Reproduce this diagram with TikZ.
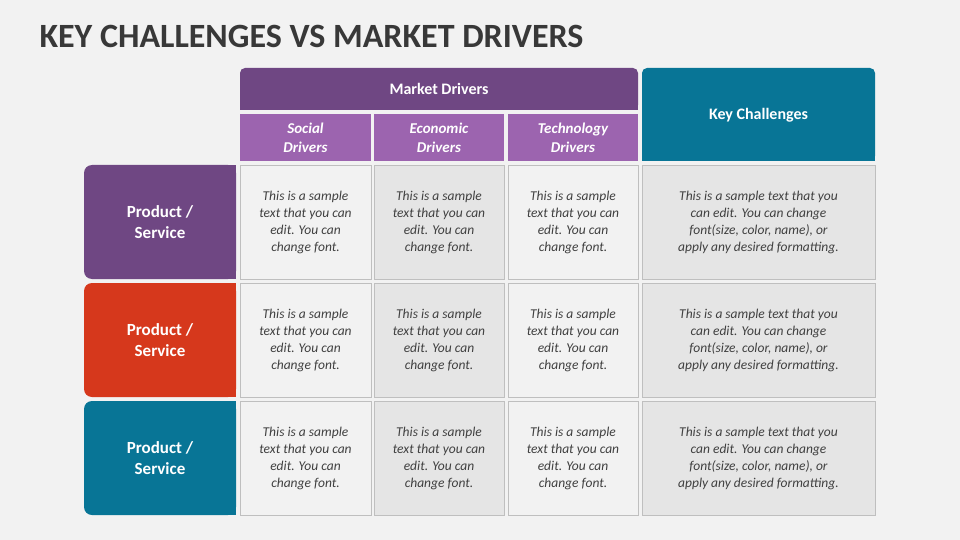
\documentclass[tikz,border=0pt]{standalone}
\usepackage{fontspec}
\setmainfont{Carlito}
\begin{document}
\begin{tikzpicture}[x=1pt,y=-1pt,
  hdr/.style={font=\bfseries\fontsize{16}{19}\selectfont, text=white, align=center},
  sub/.style={font=\bfseries\itshape\fontsize{15}{19}\selectfont, text=white, align=center},
  lab/.style={font=\bfseries\fontsize{17}{21}\selectfont, text=white, align=center},
  cell/.style={font=\itshape\fontsize{13.5}{17}\selectfont, text=black!75, align=center},
  cellA/.style={fill=black!5, draw=black!25, line width=0.6pt},
  cellB/.style={fill=black!10, draw=black!25, line width=0.6pt}]
\definecolor{pur}{HTML}{6F4783}
\definecolor{lpur}{HTML}{9C64AF}
\definecolor{red}{HTML}{D6381C}
\definecolor{teal}{HTML}{087596}
\fill[black!5] (0,0) rectangle (960,540);
\useasboundingbox (0,0) rectangle (960,540);
\node[anchor=west, font=\bfseries\fontsize{34}{38}\selectfont, text=black!78] (title) at (36,36) {KEY CHALLENGES VS MARKET DRIVERS};
% headers
\fill[pur, rounded corners=5pt] (240,68) rectangle (638,110);
\fill[pur] (240,95) rectangle (638,110);
\node[hdr] (md) at (439,89) {Market Drivers};
\fill[teal, rounded corners=5pt] (642,68) rectangle (875,161);
\fill[teal] (642,140) rectangle (875,161);
\node[hdr] (kc) at (758.5,115) {Key Challenges};
\foreach \a/\b/\t [count=\i] in {240/371/Social\\Drivers, 374/504/Economic\\Drivers, 508/638/Technology\\Drivers}{
  \fill[lpur] (\a,114) rectangle (\b,161);
  \node[sub] (s\i) at ({(\a+\b)/2},137.5) {\t};
}
% rows
\foreach \c/\y [count=\r] in {pur/165, red/283, teal/401}{
  \fill[\c, rounded corners=8pt] (84,\y) rectangle (236,\y+114);
  \fill[\c] (200,\y) rectangle (236,\y+114);
  \node[lab] (l\r) at (160,\y+57) {Product /\\Service};
  \foreach \a/\b/\st [count=\k] in {240/371/cellA, 374/504/cellB, 508/638/cellA}{
    \path[\st] (\a,\y) rectangle (\b,\y+114);
    \node[cell] (c\r\k) at ({(\a+\b)/2},\y+57) {This is a sample\\text that you can\\edit. You can\\change font.};
  }
  \path[cellB] (642,\y) rectangle (875,\y+114);
  \node[cell] (c\r4) at (758.5,\y+57) {This is a sample text that you\\can edit. You can change\\font(size, color, name), or\\apply any desired formatting.};
}
\end{tikzpicture}
\end{document}
